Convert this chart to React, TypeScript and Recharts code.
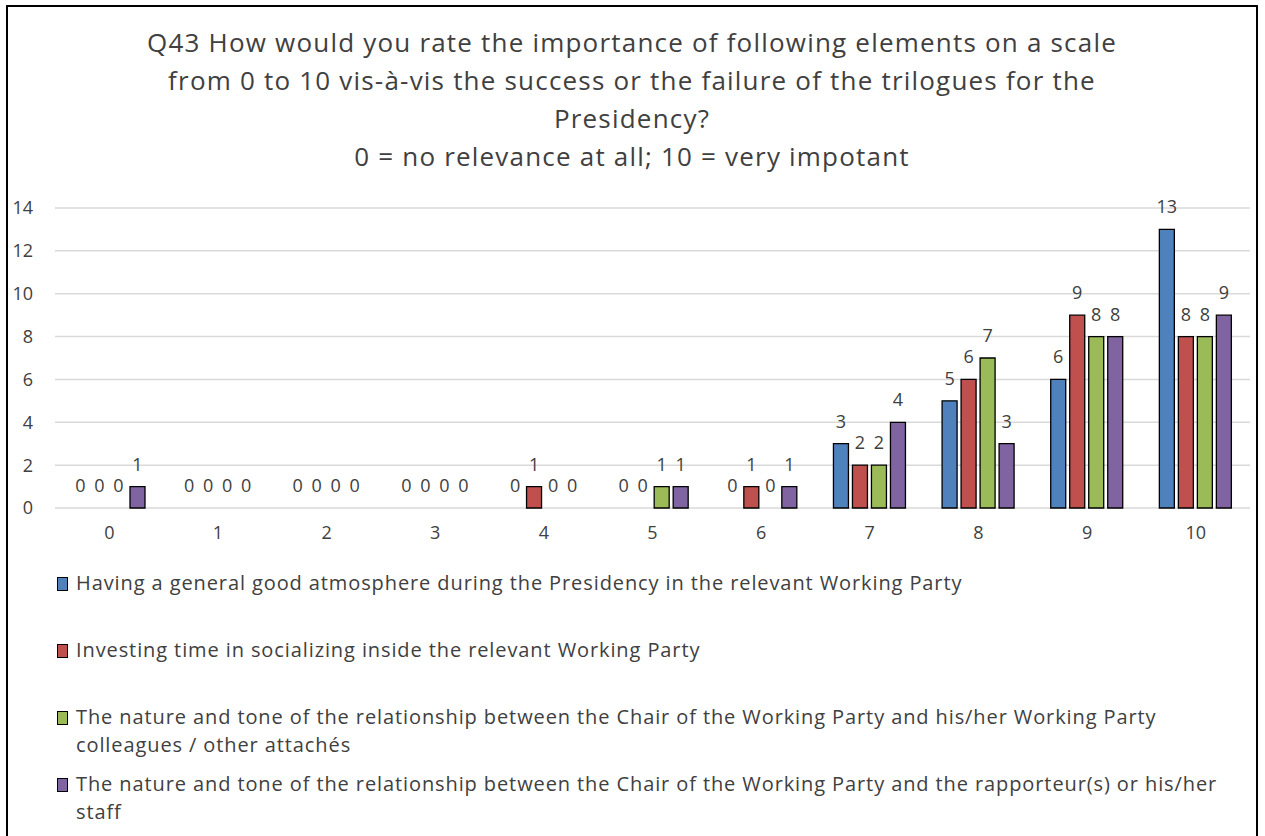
import { BarChart, Bar, XAxis, YAxis, CartesianGrid, LabelList, Cell } from "recharts";

const ratings = ["0", "1", "2", "3", "4", "5", "6", "7", "8", "9", "10"];
const atmosphere = [0, 0, 0, 0, 0, 0, 0, 3, 5, 6, 13];
const socializing = [0, 0, 0, 0, 1, 0, 1, 2, 6, 9, 8];
const chairColleagues = [0, 0, 0, 0, 0, 1, 0, 2, 7, 8, 8];
const chairRapporteur = [1, 0, 0, 0, 0, 1, 1, 4, 3, 8, 9];
const yTicks = [0, 2, 4, 6, 8, 10, 12, 14];

const titleLines = [
  "Q43 How would you rate the importance of following elements on a scale",
  "from 0 to 10 vis-à-vis the success or the failure of the trilogues for the",
  "Presidency?",
  "0 = no relevance at all; 10 = very impotant",
];

const series = [
  {
    key: "atmosphere",
    name: "Having a general good atmosphere during the Presidency in the relevant Working Party",
    color: "#4F81BD",
    values: atmosphere,
  },
  {
    key: "socializing",
    name: "Investing time in socializing inside the relevant Working Party",
    color: "#C0504D",
    values: socializing,
  },
  {
    key: "chairColleagues",
    name: "The nature and tone of the relationship between the Chair of the Working Party and his/her Working Party colleagues / other attachés",
    color: "#9BBB59",
    values: chairColleagues,
  },
  {
    key: "chairRapporteur",
    name: "The nature and tone of the relationship between the Chair of the Working Party and the rapporteur(s) or his/her staff",
    color: "#8064A2",
    values: chairRapporteur,
  },
];

const data = ratings.map((r, i) => {
  const row: { [k: string]: string | number } = { rating: r };
  series.forEach((s) => {
    row[s.key] = s.values[i];
  });
  return row;
});

const font = "'Open Sans', sans-serif";
const textColor = "#404040";

const ValueLabel = (props: any) => {
  const { x, y, width, value } = props;
  if (value === undefined || value === null) return null;
  return (
    <text
      x={Number(x) + Number(width) / 2}
      y={Number(y) - 16}
      textAnchor="middle"
      fill={textColor}
      fontSize={18}
      fontFamily={font}
    >
      {value}
    </text>
  );
};

// a hairline for zero values so recharts keeps the rect (and its label)
const zeroPoint = (value: any) => (Number(value) === 0 ? 0.5 : 0);

export default function App() {
  return (
    <div
      style={{
        position: "absolute",
        left: 6,
        top: 5,
        width: 1248,
        height: 840,
        border: "2px solid #000",
        background: "#fff",
        fontFamily: font,
        color: textColor,
      }}
    >
      <div
        style={{
          position: "absolute",
          top: 16,
          left: 0,
          width: 1248,
          textAlign: "center",
          fontSize: 26,
          letterSpacing: 1.2,
          lineHeight: "38px",
        }}
      >
        {titleLines.map((l) => (
          <div key={l}>{l}</div>
        ))}
      </div>
      <BarChart
        width={1248}
        height={830}
        data={data}
        margin={{ top: 201, right: 6, left: 0, bottom: 299 }}
        barSize={15}
        barGap={4}
      >
        <CartesianGrid vertical={false} stroke="#d9d9d9" strokeWidth={1.5} />
        <XAxis
          dataKey="rating"
          height={30}
          axisLine={false}
          tickLine={false}
          tickSize={0}
          tickMargin={18}
          tick={{ fill: textColor, fontSize: 18, fontFamily: font }}
        />
        <YAxis
          width={47}
          domain={[0, 14]}
          ticks={yTicks}
          axisLine={false}
          tickLine={false}
          tickSize={0}
          tickMargin={22}
          tick={{ fill: textColor, fontSize: 18, fontFamily: font }}
        />
        {series.map((s) => (
          <Bar
            key={s.key}
            dataKey={s.key}
            name={s.name}
            fill={s.color}
            stroke="#000"
            strokeWidth={1.3}
            minPointSize={zeroPoint}
            isAnimationActive={false}
          >
            {s.values.map((v, i) => (
              <Cell
                key={i}
                fill={v === 0 ? "none" : s.color}
                stroke={v === 0 ? "none" : "#000"}
              />
            ))}
            <LabelList dataKey={s.key} content={ValueLabel} />
          </Bar>
        ))}
      </BarChart>
      <div
        style={{
          position: "absolute",
          top: 562,
          left: 49,
          width: 1200,
          fontSize: 20,
          letterSpacing: 0.9,
          lineHeight: "28px",
        }}
      >
        {series.map((s) => (
          <div key={s.key} style={{ display: "flex", height: 67 }}>
            <div
              style={{
                width: 9,
                height: 12,
                marginTop: 8,
                marginRight: 8,
                flex: "none",
                background: s.color,
                border: "1px solid #000",
              }}
            />
            <div style={{ width: 1165 }}>{s.name}</div>
          </div>
        ))}
      </div>
    </div>
  );
}
